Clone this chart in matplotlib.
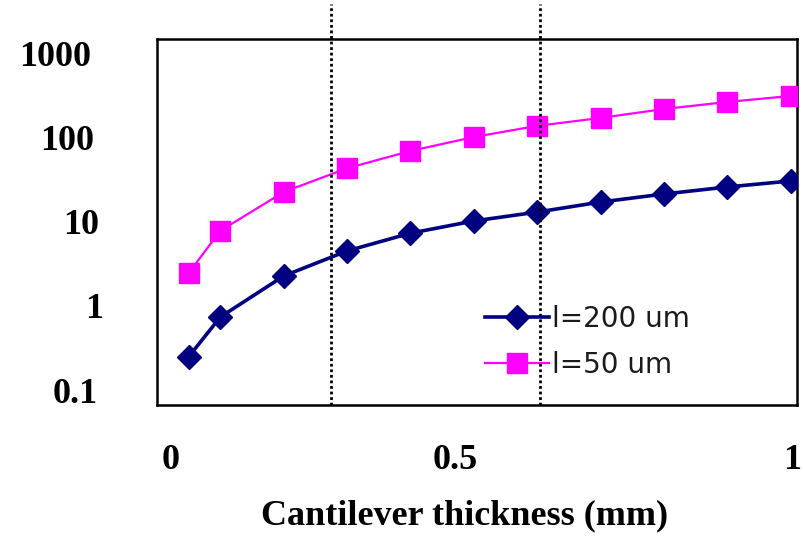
import matplotlib
matplotlib.use("Agg")
import matplotlib.pyplot as plt
import matplotlib.transforms as mtransforms
import numpy as np

# Data
thickness = [0.05, 0.1, 0.2, 0.3, 0.4, 0.5, 0.6, 0.7, 0.8, 0.9, 1.0]
l200 = [0.25, 0.74, 2.27, 4.5, 7.3, 10.2, 13.0, 17.1, 21.3, 25.8, 30.4]
l50 = [2.46, 7.8, 22.5, 43, 69, 101, 137, 170, 217, 263, 310]
series_labels = ["l=200 um", "l=50 um"]
x_ticks = [0, 0.5, 1]
x_tick_labels = ["0", "0.5", "1"]
y_ticks = [0.1, 1, 10, 100, 1000]
y_tick_labels = ["0.1", "1", "10", "100", "1000"]
guide_x = [0.275, 0.605]
xlabel = "Cantilever thickness (mm)"

W, H = 804, 536
fig = plt.figure(figsize=(W / 100, H / 100), dpi=100)
left, right, top, bottom = 157, 797, 39, 405
ax = fig.add_axes([left / W, 1 - bottom / H, (right - left) / W, (bottom - top) / H])

ax.set_yscale("log")
ax.set_xlim(0, 1.01)
ax.set_ylim(0.0669, 1469)

ax.plot(thickness, l200, color="#000080", lw=2.6, marker="D", markersize=12,
        label=series_labels[0], zorder=3)
ax.plot(thickness, l50, color="#FF00FF", lw=1.6, marker="s", markersize=14,
        label=series_labels[1], zorder=3)

for gx in guide_x:
    ax.axvline(gx, ymin=0, ymax=1.095, color="black", lw=2.0,
               linestyle=(0, (1, 1)), clip_on=False, zorder=4)

serif = "Liberation Serif"
ax.set_xticks(x_ticks)
ax.set_xticklabels(x_tick_labels, fontfamily=serif, fontweight="bold", fontsize=26)
ax.set_yticks(y_ticks)
ax.set_yticklabels(y_tick_labels, fontfamily=serif, fontweight="bold", fontsize=26)
ax.yaxis.set_minor_locator(matplotlib.ticker.NullLocator())
ax.tick_params(axis="both", length=0)
ax.tick_params(axis="x", pad=28)
ax.tick_params(axis="y", pad=43)

# Per-label nudges to match reference placement (pixels)
xoffs = [14, -19, 1]
for lab, dx in zip(ax.get_xticklabels(), xoffs):
    lab.set_transform(lab.get_transform() + mtransforms.ScaledTranslation(dx / 100, 0, fig.dpi_scale_trans))
yoffs = [0, 6, 2, -3, -6]
for lab, dx in zip(ax.get_yticklabels(), yoffs):
    lab.set_transform(lab.get_transform() + mtransforms.ScaledTranslation(dx / 100, 0, fig.dpi_scale_trans))

ax.set_xlabel(xlabel, fontfamily=serif, fontweight="bold", fontsize=26)
ax.xaxis.set_label_coords((465 - left) / (right - left), -(499 - bottom) / (bottom - top))

for s in ax.spines.values():
    s.set_color("black")
    s.set_linewidth(1.8)

leg = ax.legend(loc="upper left", bbox_to_anchor=(485 / W, 1 - 305 / H),
                bbox_transform=fig.transFigure, frameon=False,
                prop={"family": "DejaVu Sans", "size": 20},
                handlelength=2.3, handletextpad=0.1, labelspacing=0.65,
                borderpad=0, borderaxespad=0)
for t in leg.get_texts():
    t.set_color("#1a1a1a")

fig.savefig("out.png", dpi=100)
